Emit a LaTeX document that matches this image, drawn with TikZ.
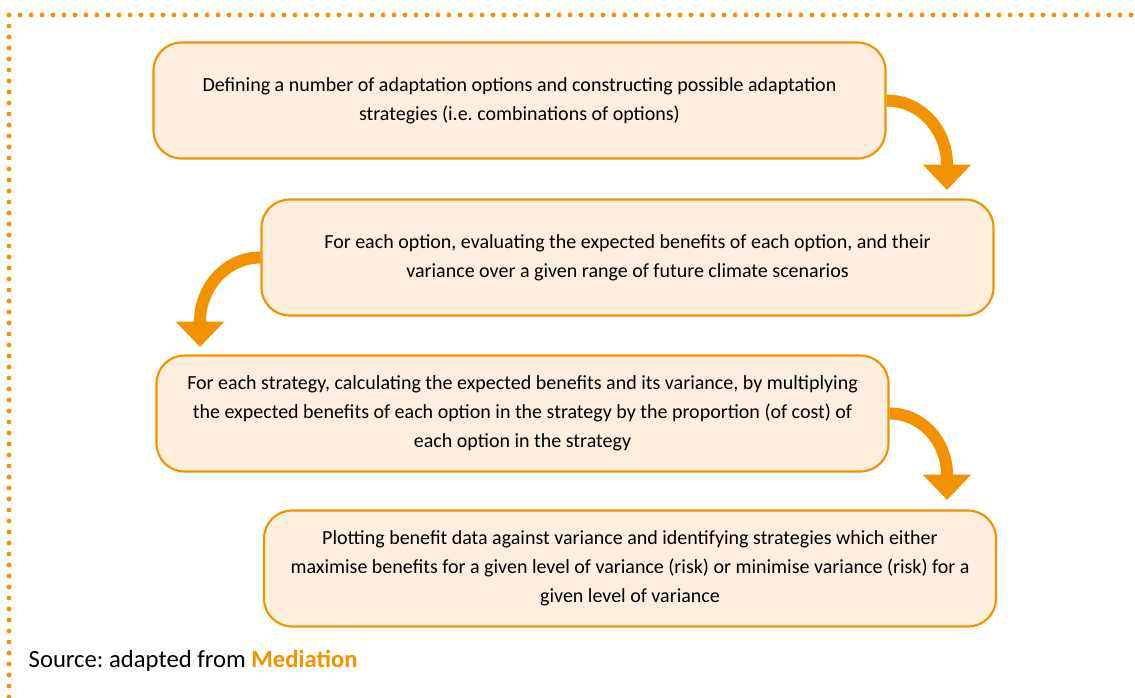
\documentclass[tikz,border=0pt]{standalone}
\usepackage{fontspec}
\setmainfont{Carlito}
\usepackage{xcolor}
\usetikzlibrary{arrows.meta}
\definecolor{flow orange}{HTML}{F39200}
\definecolor{flow fill}{HTML}{FDEEDD}
\frenchspacing

\begin{document}
\begin{tikzpicture}%
  [x=0.75pt,y=-0.75pt]
  \tikzstyle{stage box}=[rectangle,rounded corners=21pt,draw=flow orange,line width=1.6pt,
    fill=flow fill,minimum width=549pt,minimum height=87pt,align=center,
    font=\fontsize{15}{21.75}\selectfont]
  \tikzstyle{flow arrow}=[draw=flow orange,line width=9pt,
    -{Triangle[length=19pt,width=35pt]}]
  \useasboundingbox (0,0) rectangle (1135,697);
  % dotted frame
  \draw[flow orange,line width=3.6pt,line cap=round,dash pattern=on 0pt off 8.25pt]
    (9,697) -- (9,15) -- (1135,15);
  \node(b1)[stage box] at (519.5,100.5)
    {Defining a number of adaptation options and constructing possible adaptation\\
     strategies (i.e. combinations of options)};
  \node(b2)[stage box] at (627.5,257.5)
    {For each option, evaluating the expected benefits of each option, and their\\
     variance over a given range of future climate scenarios};
  \node(b3)[stage box] at (522.5,413.5)
    {For each strategy, calculating the expected benefits and its variance, by multiplying\\
     the expected benefits of each option in the strategy by the proportion (of cost) of\\
     each option in the strategy};
  \node(b4)[stage box] at (630,568.5)
    {Plotting benefit data against variance and identifying strategies which either\\
     maximise benefits for a given level of variance (risk) or minimise variance (risk) for a\\
     given level of variance};
  \coordinate(t1) at (947,190);
  \coordinate(t2) at (200,347);
  \coordinate(t3) at (947,500);
  \draw[flow arrow] (b1.east) to[out=0,in=90] ([yshift=19pt]t1) -- (t1);
  \draw[flow arrow] (b2.west) to[out=180,in=90] ([yshift=19pt]t2) -- (t2);
  \draw[flow arrow] (b3.east) to[out=0,in=90] ([yshift=19pt]t3) -- (t3);
  \node(src)[anchor=west,font=\fontsize{18.5}{22}\selectfont] at (24,661)
    {Source: adapted from \textcolor{flow orange}{\bfseries Mediation}};
\end{tikzpicture}
\end{document}
